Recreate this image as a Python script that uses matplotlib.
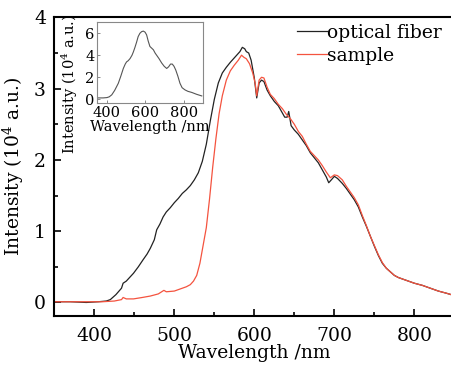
import matplotlib
matplotlib.use("Agg")
import matplotlib.pyplot as plt
from matplotlib.ticker import MultipleLocator

plt.rcParams["font.family"] = "DejaVu Serif"
plt.rcParams["mathtext.fontset"] = "dejavuserif"

# main spectra (wavelength nm, intensity 10^4 a.u.)
fiber_nm = [350, 370, 390, 405, 415, 420, 427, 434, 436, 440, 449, 455, 461, 466,
            470, 475, 478, 482, 486, 490, 495, 500, 505, 510, 515, 520, 525, 530,
            535, 540, 545, 550, 555, 560, 565, 570, 574, 578, 582, 585, 588, 590,
            593, 596, 600, 603, 606, 609, 612, 616, 620, 625, 630, 634, 638, 641,
            643, 646, 650, 655, 660, 665, 670, 675, 680, 685, 690, 693, 697, 700,
            704, 710, 715, 720, 725, 730, 735, 740, 745, 750, 755, 760, 765, 770,
            775, 780, 790, 800, 810, 820, 830, 840, 846]
fiber_val = [0.01, 0.01, 0.0, 0.01, 0.02, 0.04, 0.11, 0.2, 0.27, 0.3, 0.41, 0.5, 0.6,
             0.68, 0.76, 0.88, 1.02, 1.1, 1.2, 1.27, 1.33, 1.4, 1.46, 1.53, 1.58, 1.64,
             1.72, 1.82, 1.98, 2.22, 2.55, 2.85, 3.08, 3.22, 3.3, 3.37, 3.42, 3.47, 3.52,
             3.58, 3.56, 3.52, 3.5, 3.4, 3.15, 2.87, 3.08, 3.12, 3.1, 2.98, 2.9, 2.82,
             2.76, 2.68, 2.6, 2.6, 2.68, 2.48, 2.42, 2.36, 2.28, 2.2, 2.1, 2.03, 1.96,
             1.86, 1.76, 1.68, 1.73, 1.77, 1.74, 1.67, 1.6, 1.52, 1.44, 1.34, 1.2, 1.07,
             0.93, 0.79, 0.66, 0.55, 0.48, 0.43, 0.38, 0.35, 0.31, 0.27, 0.24, 0.2,
             0.16, 0.13, 0.11]

sample_nm = [350, 370, 390, 410, 425, 434, 436, 440, 449, 460, 470, 480, 487, 490,
             500, 510, 515, 520, 524, 528, 532, 536, 540, 544, 548, 552, 556, 560,
             565, 570, 575, 580, 584, 587, 590, 594, 598, 601, 603, 606, 609, 612,
             616, 620, 625, 630, 635, 640, 645, 650, 655, 660, 665, 670, 675, 680,
             685, 690, 695, 700, 704, 710, 715, 720, 725, 730, 735, 740, 745, 750,
             755, 760, 765, 770, 775, 780, 790, 800, 810, 820, 830, 840, 846]
sample_val = [0.01, 0.01, 0.01, 0.01, 0.02, 0.04, 0.07, 0.05, 0.05, 0.07, 0.09, 0.12,
              0.17, 0.15, 0.16, 0.2, 0.22, 0.25, 0.3, 0.38, 0.55, 0.8, 1.05, 1.45, 1.9,
              2.3, 2.65, 2.9, 3.12, 3.25, 3.33, 3.4, 3.47, 3.44, 3.42, 3.35, 3.22, 3.08,
              2.9, 3.12, 3.16, 3.15, 3.02, 2.92, 2.86, 2.78, 2.72, 2.64, 2.58, 2.5, 2.4,
              2.33, 2.22, 2.12, 2.06, 2.0, 1.92, 1.83, 1.75, 1.79, 1.78, 1.72, 1.63,
              1.55, 1.47, 1.37, 1.22, 1.08, 0.93, 0.8, 0.67, 0.56, 0.48, 0.43, 0.38,
              0.35, 0.31, 0.27, 0.24, 0.2, 0.16, 0.13, 0.11]

# inset spectrum
inset_nm = [350, 380, 400, 412, 425, 440, 459, 472, 485, 495, 502, 510, 520, 530,
            537, 545, 554, 562, 571, 580, 589, 598, 606, 614, 623, 632, 641, 650,
            658, 670, 684, 697, 710, 720, 730, 739, 748, 757, 768, 779, 790, 805,
            820, 840, 865, 892]
inset_val = [0.12, 0.12, 0.15, 0.22, 0.4, 0.8, 1.45, 2.1, 2.8, 3.2, 3.4, 3.5, 3.7,
             4.0, 4.3, 4.7, 5.2, 5.7, 6.0, 6.15, 6.2, 6.1, 5.85, 5.3, 4.8, 4.65, 4.5,
             4.2, 4.0, 3.7, 3.3, 3.0, 2.8, 2.95, 3.2, 3.2, 3.0, 2.66, 2.1, 1.45, 1.05,
             0.85, 0.72, 0.62, 0.45, 0.3]

fig = plt.figure(figsize=(4.51, 3.68), dpi=100)
ax = fig.add_axes([0.1204, 0.1413, 0.887, 0.8114])
ax.plot(fiber_nm, fiber_val, color="#222222", linewidth=0.9, label="optical fiber")
ax.plot(sample_nm, sample_val, color="#f4533f", linewidth=0.9, label="sample")
ax.set_xlim(350, 850)
ax.set_ylim(-0.19, 4)
ax.xaxis.set_major_locator(MultipleLocator(100))
ax.xaxis.set_minor_locator(MultipleLocator(50))
ax.yaxis.set_major_locator(MultipleLocator(1))
ax.yaxis.set_minor_locator(MultipleLocator(0.5))
ax.tick_params(which="both", direction="in", labelsize=13.5, width=1.2)
ax.tick_params(which="major", length=5, pad=6)
ax.tick_params(axis="x", which="major", pad=8)
ax.tick_params(which="minor", length=3)
for s in ax.spines.values():
    s.set_linewidth(1.5)
ax.set_xlabel("Wavelength /nm", fontsize=13.5, labelpad=-1)
ax.set_ylabel(r"Intensity (10$^4$ a.u.)", fontsize=13.5, labelpad=6)
ax.legend(loc="upper right", bbox_to_anchor=(0.997, 0.955), bbox_transform=fig.transFigure,
          frameon=False, fontsize=13.5, handlelength=1.6, handletextpad=0.0,
          labelspacing=0.25, borderaxespad=0)

# inset
ins = fig.add_axes([97.3 / 451, (368 - 103.3) / 368, 106 / 451, 81 / 368])
ins.plot(inset_nm, inset_val, color="#555555", linewidth=0.8)
ins.set_xlim(350, 900)
ins.set_ylim(-0.37, 7)
ins.xaxis.set_major_locator(MultipleLocator(200))
ins.yaxis.set_major_locator(MultipleLocator(2))
ins.tick_params(which="both", direction="in", labelsize=10.5, length=2.5, width=0.6,
                color="#777777", pad=2)
for s in ins.spines.values():
    s.set_linewidth(0.8)
    s.set_color("#888888")
ins.set_xlabel("Wavelength /nm", fontsize=10.5, labelpad=0)
ins.set_ylabel(r"Intensity (10$^4$ a.u.)", fontsize=10.5)
ins.yaxis.set_label_coords(-0.165, 0.24)

fig.savefig("out.png", dpi=100)
